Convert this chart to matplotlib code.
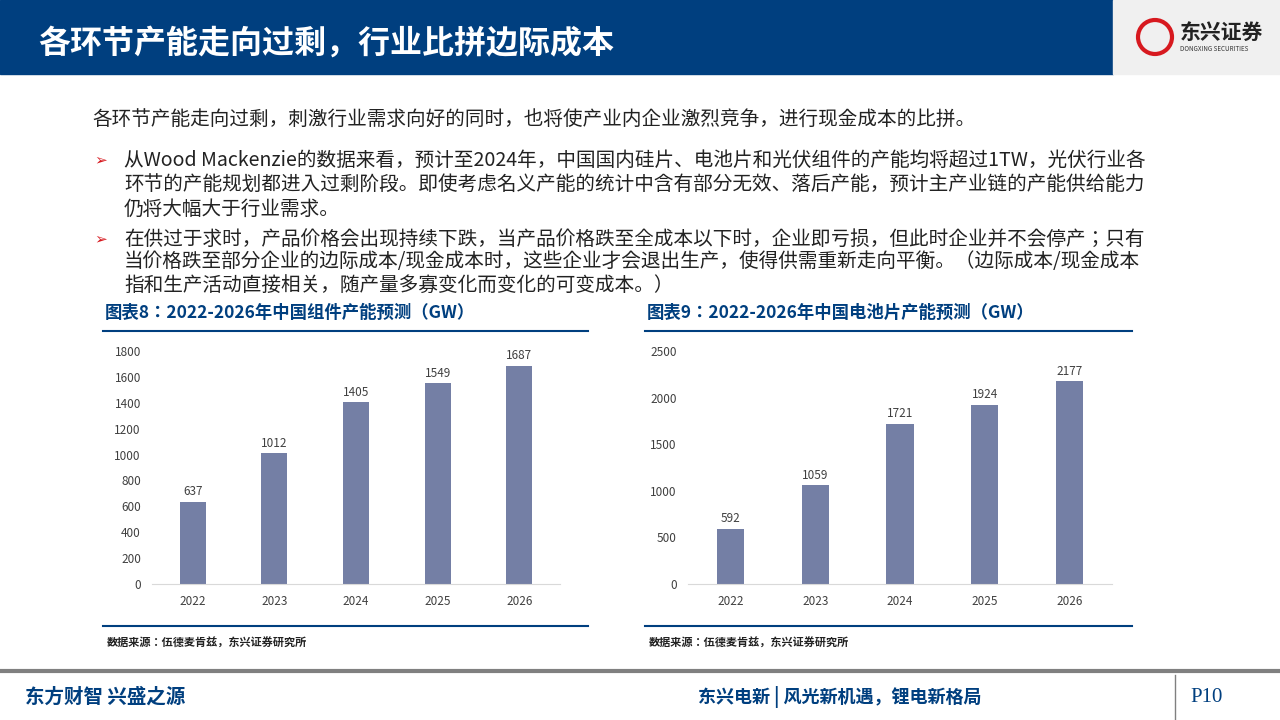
import matplotlib
matplotlib.use("Agg")
import matplotlib.pyplot as plt
from matplotlib.patches import Rectangle, Ellipse

plt.rcParams["font.family"] = ["Noto Sans CJK JP", "DejaVu Sans"]

NAVY = "#003F7F"
BAR = "#747FA5"
TXT = "#222222"

years = ["2022", "2023", "2024", "2025", "2026"]
module_gw = [637, 1012, 1405, 1549, 1687]
cell_gw = [592, 1059, 1721, 1924, 2177]

W, H = 1280, 720
fig = plt.figure(figsize=(12.8, 7.2), dpi=100)

def px(x, y):
    return x / W, 1 - y / H

def text(x, y, s, **kw):
    fig.text(*px(x, y), s, **kw)

def hline(x0, x1, y, color, lw):
    fig.add_artist(plt.Line2D([x0 / W, x1 / W], [1 - y / H] * 2, color=color, lw=lw))

# header band
fig.add_artist(Rectangle(px(0, 74), 1113 / W, 74 / H, color=NAVY, transform=fig.transFigure))
fig.add_artist(Rectangle(px(1113, 74), 167 / W, 74 / H, color="#F0F0F0", transform=fig.transFigure))
text(38, 44, "各环节产能走向过剩，行业比拼边际成本", color="white", fontsize=23, fontweight="bold", va="center")
fig.add_artist(Ellipse(px(1155, 37), 34 / W, 34 / H, transform=fig.transFigure,
                       fill=False, ec="#D7191F", lw=3))
text(1180, 32, "东兴证券", color="#222222", fontsize=15, fontweight="bold", va="center")
text(1180, 49, "DONGXING SECURITIES", color="#333333", fontsize=4.5, va="center")

# body text
fs = 14.1
text(92, 120, "各环节产能走向过剩，刺激行业需求向好的同时，也将使产业内企业激烈竞争，进行现金成本的比拼。", fontsize=fs, color=TXT, va="center")
lines = [
    (160, "从Wood Mackenzie的数据来看，预计至2024年，中国国内硅片、电池片和光伏组件的产能均将超过1TW，光伏行业各", True),
    (185, "环节的产能规划都进入过剩阶段。即使考虑名义产能的统计中含有部分无效、落后产能，预计主产业链的产能供给能力", False),
    (209, "仍将大幅大于行业需求。", False),
    (239, "在供过于求时，产品价格会出现持续下跌，当产品价格跌至全成本以下时，企业即亏损，但此时企业并不会停产；只有", True),
    (262, "当价格跌至部分企业的边际成本/现金成本时，这些企业才会退出生产，使得供需重新走向平衡。（边际成本/现金成本", False),
    (285, "指和生产活动直接相关，随产量多寡变化而变化的可变成本。）", False),
]
for y, s, bullet in lines:
    if bullet:
        text(94, y, "➢", fontsize=11, color="#D7191F", va="center", fontfamily="DejaVu Sans")
    text(124, y, s, fontsize=fs, color=TXT, va="center")

# charts
def chart(x0, x1, title, vals, ymax, step, ax_box):
    text(x0 + 2, 313, title, fontsize=12.5, fontweight="bold", color=NAVY, va="center")
    hline(x0, x1, 331, NAVY, 1.5)
    hline(x0, x1, 626, NAVY, 1.5)
    text(x0 + 4, 643, "数据来源：伍德麦肯兹，东兴证券研究所", fontsize=8, fontweight="bold", color=TXT, va="center")
    l, t, r, b = ax_box
    ax = fig.add_axes([l / W, 1 - b / H, (r - l) / W, (b - t) / H])
    bars = ax.bar(years, vals, width=0.32, color=BAR)
    ax.set_ylim(0, ymax)
    ax.set_yticks(range(0, ymax + 1, step))
    ax.set_xlim(-0.5, 4.5)
    for s in ["top", "right", "left"]:
        ax.spines[s].set_visible(False)
    ax.spines["bottom"].set_color("#D9D9D9")
    ax.tick_params(length=0, labelsize=8.5, colors="#404040", pad=8)
    for bb, v in zip(bars, vals):
        ax.text(bb.get_x() + bb.get_width() / 2, v + ymax * 0.015, str(v),
                ha="center", va="bottom", fontsize=8.5, color="#404040")

chart(103, 588, "图表8：2022-2026年中国组件产能预测（GW）", module_gw, 1800, 200, (152, 351, 560, 584))
chart(645, 1132, "图表9：2022-2026年中国电池片产能预测（GW）", cell_gw, 2500, 500, (688, 351, 1112, 584))

# footer
hline(0, 1280, 671, "#808080", 3)
fig.add_artist(plt.Line2D([1175 / W] * 2, [1 - 675 / H, 0], color="#808080", lw=1))
text(25, 697, "东方财智 兴盛之源", fontsize=14, fontweight="bold", color=NAVY, va="center", style="italic")
text(698, 697, "东兴电新 | 风光新机遇，锂电新格局", fontsize=13, fontweight="bold", color=NAVY, va="center")
text(1190, 697, "P10", fontsize=15, color=NAVY, va="center", fontfamily="Liberation Serif")

fig.savefig("out.png", dpi=100)
